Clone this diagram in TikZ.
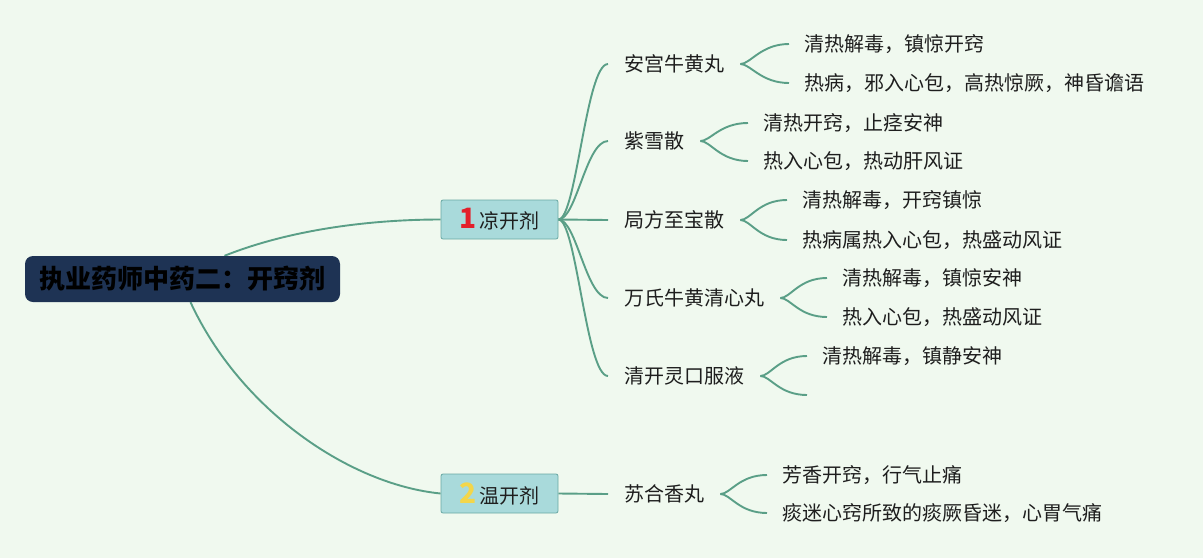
\documentclass[tikz,border=0pt]{standalone}
\usepackage{fontspec}
\setmainfont{Noto Sans CJK SC}
\usetikzlibrary{calc}
\definecolor{bgc}{HTML}{F0F9EF}
\definecolor{linec}{HTML}{5A9F87}
\definecolor{navy}{HTML}{1E3354}
\definecolor{boxfill}{HTML}{A9DADB}
\definecolor{boxline}{HTML}{6AA9A5}
\definecolor{redone}{HTML}{E3202B}
\definecolor{yellowtwo}{HTML}{F3D64A}
\definecolor{txt}{HTML}{1E1E1E}
\pgfdeclarelayer{bg}
\pgfdeclarelayer{lines}
\pgfsetlayers{bg,lines,main}
\begin{document}
\begin{tikzpicture}[x=1pt,y=-1pt,
  every node/.style={font=\fontsize{20}{23}\selectfont, text=txt},
  rootbox/.style={fill=navy, rounded corners=8pt, minimum width=315pt, minimum height=46pt,
     inner sep=0pt, font=\fontsize{26}{30}\selectfont\bfseries, text=black},
  catbox/.style={fill=boxfill, draw=boxline, line width=0.8pt, rounded corners=2pt,
     minimum width=117pt, minimum height=39pt, inner sep=0pt},
  child/.style={anchor=west, inner xsep=16pt, inner ysep=2pt},
  leaf/.style={anchor=west, inner xsep=15pt, inner ysep=2pt},
  conn/.style={draw=linec, line width=1.9pt},
  fork/.style={conn}
]
\begin{pgfonlayer}{bg}
\fill[bgc] (0,0) rectangle (1203,558);
\end{pgfonlayer}
\useasboundingbox (0,0) rectangle (1203,558);

% nodes
\node[rootbox] (root) at (182.5,279) {执业药师中药二：开窍剂};
\node[catbox] (b1) at (499.5,219.5) {\textcolor{redone}{\fontsize{28}{28}\selectfont\bfseries 1}\hspace{3pt}凉开剂};
\node[catbox] (b2) at (499.5,493.5) {\textcolor{yellowtwo}{\fontsize{28}{28}\selectfont\bfseries 2}\hspace{3pt}温开剂};

\node[child] (c1) at (608,64) {安宫牛黄丸};
\node[child] (c2) at (608,141) {紫雪散};
\node[child] (c3) at (608,220) {局方至宝散};
\node[child] (c4) at (608,298) {万氏牛黄清心丸};
\node[child] (c5) at (608,376) {清开灵口服液};
\node[child] (c6) at (608,494) {苏合香丸};

\node[leaf] (l11) at (789,44) {清热解毒，镇惊开窍};
\node[leaf] (l12) at (789,83) {热病，邪入心包，高热惊厥，神昏谵语};
\node[leaf] (l21) at (748,123) {清热开窍，止痉安神};
\node[leaf] (l22) at (748,161) {热入心包，热动肝风证};
\node[leaf] (l31) at (787,200) {清热解毒，开窍镇惊};
\node[leaf] (l32) at (787,240) {热病属热入心包，热盛动风证};
\node[leaf] (l41) at (827,278) {清热解毒，镇惊安神};
\node[leaf] (l42) at (827,317) {热入心包，热盛动风证};
\node[leaf] (l51) at (807,356) {清热解毒，镇静安神};
\coordinate (e52) at (807,395);
\node[leaf] (l61) at (767,475) {芳香开窍，行气止痛};
\node[leaf] (l62) at (767,513) {痰迷心窍所致的痰厥昏迷，心胃气痛};

% connectors
\begin{pgfonlayer}{lines}
\draw[conn] ([xshift=42pt]root.north) .. controls +(65,-26) and +(-71,0) .. (b1.west);
\draw[conn] ([xshift=8pt]root.south) .. controls +(50,108) and +(-91,-9) .. (b2.west);

\foreach \c in {c1,c2,c4,c5}
  \draw[conn] (b1.east) .. controls +(18,0) and +(-22,0) .. (\c.west);
\draw[conn] (b1.east) -- (c3.west);
\draw[conn] (b2.east) -- (c6.west);

\foreach \a/\b in {c1/l11,c1/l12,c2/l21,c2/l22,c3/l31,c3/l32,c4/l41,c4/l42,c5/l51,c5/e52,c6/l61,c6/l62}
  \draw[fork] (\a.east) .. controls +(10,0) and +(-28,0) .. (\b.west);
\end{pgfonlayer}
\end{tikzpicture}
\end{document}
